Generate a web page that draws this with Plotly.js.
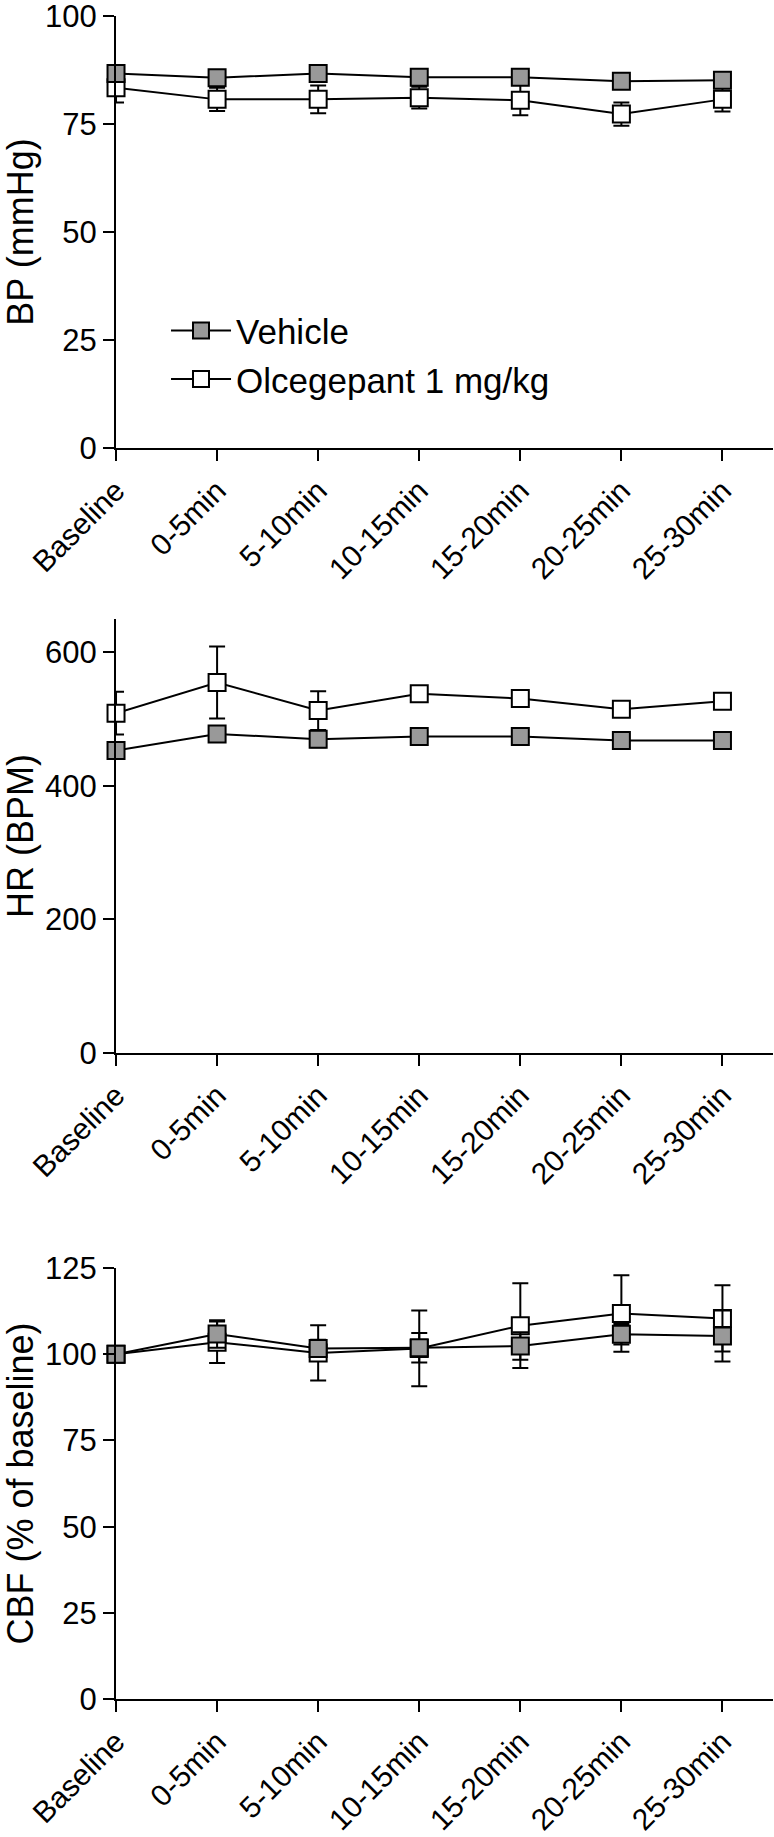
<!DOCTYPE html>
<html>
<head>
<meta charset="utf-8">
<script src="https://cdn.plot.ly/plotly-3.0.1.min.js"></script>
<style>
  body { margin: 0; background: #fff; }
</style>
</head>
<body>
<div id="plot"></div>
<script>
const vremena = ["Baseline", "0-5min", "5-10min", "10-15min", "15-20min", "20-25min", "25-30min"];

// BP (mmHg)
const bpVehicle = [86.7, 85.7, 86.7, 85.8, 85.8, 84.9, 85.1];
const bpVehicleSem = [1.6, 1.6, 1.6, 1.6, 1.6, 1.6, 1.6];
const bpOlcegepant = [83.4, 80.7, 80.7, 81.1, 80.5, 77.3, 80.7];
const bpOlcegepantSem = [3.4, 2.7, 3.2, 2.5, 3.5, 2.7, 2.8];

// HR (BPM)
const hrVehicle = [453, 478, 470, 474, 474, 468, 468];
const hrVehicleSem = [8, 9, 12, 8, 6, 5, 5];
const hrOlcegepant = [509, 555, 513, 538, 531, 515, 527];
const hrOlcegepantSem = [32, 54, 29, 7, 10, 4, 4];

// CBF (% of baseline)
const cbfVehicle = [100, 105.9, 101.7, 101.9, 102.4, 105.8, 105.3];
const cbfVehicleSem = [0, 4, 2.5, 4.3, 4, 3, 7.4];
const cbfOlcegepant = [100, 103.5, 100.4, 101.7, 108.3, 111.8, 110.4];
const cbfOlcegepantSem = [0, 6, 8, 11, 12.3, 11.1, 9.6];

const fontFamily = "Liberation Sans, Arial, Helvetica, sans-serif";

const napraviTrag = (y, sem, naziv, boja, osa, prikaziLegendu, rang) => ({
  x: vremena,
  y: y,
  type: "scatter",
  mode: "lines+markers",
  name: naziv,
  xaxis: "x" + osa,
  yaxis: "y" + osa,
  showlegend: prikaziLegendu,
  legendrank: rang,
  cliponaxis: false,
  line: { color: "#000", width: 2 },
  marker: {
    symbol: "square",
    size: 17,
    color: boja,
    line: { color: "#000", width: 2 },
  },
  error_y: {
    type: "data",
    array: sem,
    visible: true,
    color: "#000",
    thickness: 2,
    width: 8,
  },
});

const data = [
  napraviTrag(bpOlcegepant, bpOlcegepantSem, "Olcegepant 1 mg/kg", "#ffffff", "", true, 2),
  napraviTrag(bpVehicle, bpVehicleSem, "Vehicle", "#999999", "", true, 1),
  napraviTrag(hrOlcegepant, hrOlcegepantSem, "Olcegepant 1 mg/kg", "#ffffff", "2", false, 2),
  napraviTrag(hrVehicle, hrVehicleSem, "Vehicle", "#999999", "2", false, 1),
  napraviTrag(cbfOlcegepant, cbfOlcegepantSem, "Olcegepant 1 mg/kg", "#ffffff", "3", false, 2),
  napraviTrag(cbfVehicle, cbfVehicleSem, "Vehicle", "#999999", "3", false, 1),
];

const xOsa = (anchor) => ({
  anchor: anchor,
  domain: [0.1499, 0.9987],
  type: "category",
  range: [0, 6.5],
  showline: true,
  linecolor: "#000",
  linewidth: 2,
  ticks: "outside",
  ticklen: 11,
  tickwidth: 2,
  tickcolor: "#000",
  tickangle: -45,
  ticklabeloverflow: "allow",
  tickfont: { family: fontFamily, size: 30, color: "#000" },
  showgrid: false,
  zeroline: false,
});

const yOsa = (anchor, domen, opseg, korak, naslov) => ({
  anchor: anchor,
  domain: domen,
  range: opseg,
  tick0: 0,
  dtick: korak,
  showline: true,
  linecolor: "#000",
  linewidth: 2,
  ticks: "outside",
  ticklen: 11,
  tickwidth: 2,
  tickcolor: "#000",
  ticklabeloverflow: "allow",
  tickfont: { family: fontFamily, size: 31, color: "#000" },
  showgrid: false,
  zeroline: false,
  title: {
    text: naslov,
    font: { family: fontFamily, size: 36, color: "#000" },
    standoff: 12,
  },
});

const layout = {
  width: 774,
  height: 1837,
  margin: { l: 0, r: 0, t: 0, b: 0 },
  paper_bgcolor: "#fff",
  plot_bgcolor: "#fff",
  showlegend: true,
  legend: {
    x: 0.2145,
    y: 0.836,
    xanchor: "left",
    yanchor: "top",
    bgcolor: "rgba(0,0,0,0)",
    itemwidth: 60,
    font: { family: fontFamily, size: 35, color: "#000" },
  },
  xaxis: xOsa("y"),
  yaxis: yOsa("x", [0.7561, 0.9913], [0, 100], 25, "BP (mmHg)"),
  xaxis2: xOsa("y2"),
  yaxis2: yOsa("x2", [0.4268, 0.663], [0, 650], 200, "HR (BPM)"),
  xaxis3: xOsa("y3"),
  yaxis3: yOsa("x3", [0.0751, 0.3097], [0, 125], 25, "CBF (% of baseline)"),
};

Plotly.newPlot("plot", data, layout, { staticPlot: true });
</script>
</body>
</html>
